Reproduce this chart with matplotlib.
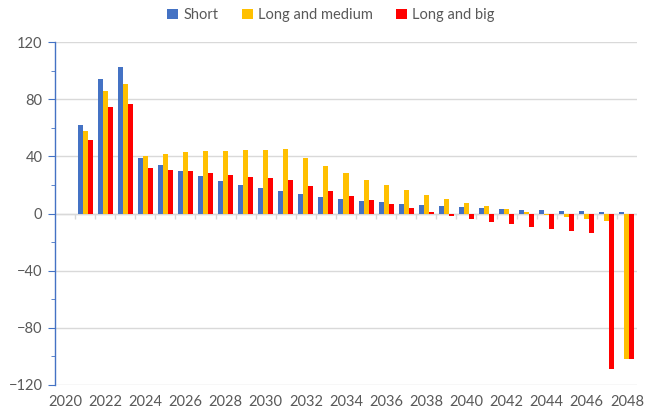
import numpy as np
import matplotlib
import matplotlib.pyplot as plt
matplotlib.use('Agg')

plt.rcParams['font.family'] = ['Lato', 'DejaVu Sans']

years = list(range(2020, 2049))
short = [np.nan, 62.2, 94.0, 102.5, 38.8, 33.9, 30.0, 26.0, 22.9, 20.1,
         17.5, 15.4, 13.3, 11.7, 10.3, 8.9, 7.7, 6.5, 5.6, 4.9,
         4.2, 3.5, 2.8, 2.6, 2.1, 1.6, 1.4, 0.9, 0.7]
long_medium = [np.nan, 57.5, 85.6, 90.7, 40.5, 41.6, 42.8, 43.5, 44.0, 44.4,
               44.7, 45.1, 38.6, 33.0, 28.1, 23.6, 19.6, 16.1, 12.6, 9.8,
               7.3, 5.1, 2.8, 0.9, -1.2, -2.6, -4.0, -5.4, -101.5]
long_big = [np.nan, 51.2, 74.6, 76.3, 31.6, 30.6, 29.5, 28.0, 26.9, 25.6,
            24.6, 23.2, 19.2, 15.4, 12.2, 9.1, 6.3, 3.5, 0.9, -1.6,
            -3.7, -5.6, -7.5, -9.1, -10.8, -12.4, -13.6, -108.5, -101.5]

series = [("Short", short, "#4472C4"),
          ("Long and medium", long_medium, "#FFC000"),
          ("Long and big", long_big, "#FF0000")]

fig = plt.figure(figsize=(6.46, 4.16), dpi=100)
ax = fig.add_axes([55 / 646, 1 - 385 / 416, 582 / 646, 343 / 416])

x = np.arange(len(years))
width = 0.25
for k, (name, vals, color) in enumerate(series):
    ax.bar(x + (k - 1) * width, vals, width, color=color, label=name, zorder=3)

ax.set_xlim(-0.5, len(years) - 0.5)
ax.set_ylim(-120, 120)

# gridlines
ax.set_yticks(np.arange(-120, 121, 40))
ax.set_yticks(np.arange(-120, 121, 20), minor=True)
ax.yaxis.grid(True, which='major', color='#D9D9D9', linewidth=1, zorder=0)
ax.tick_params(axis='y', which='major', length=5, color='#4472C4', labelsize=10.5,
               labelcolor='#595959', pad=4)
ax.tick_params(axis='y', which='minor', length=3, color='#4472C4')

# category axis at zero, labels at the bottom
ax.axhline(0, color='#D9D9D9', linewidth=1, zorder=2)
ax.vlines(x[:-1] + 0.5, -3.5, 0, color='#D9D9D9', linewidth=1, zorder=2)
ax.set_xticks(x[::2])
ax.set_xticklabels([str(y) for y in years[::2]])
ax.tick_params(axis='x', length=0, labelsize=10.5, labelcolor='#595959', pad=7)

for s in ['top', 'right', 'bottom']:
    ax.spines[s].set_visible(False)
ax.spines['left'].set_color('#4472C4')
ax.spines['left'].set_linewidth(1)

fig.legend(loc='center', bbox_to_anchor=(331 / 646, 1 - 15 / 416), ncol=3,
           frameon=False, handlelength=0.75, handleheight=0.75, handletextpad=0.35,
           columnspacing=1.6, fontsize=10.5, labelcolor='#595959')

plt.savefig('out.png', dpi=100)
